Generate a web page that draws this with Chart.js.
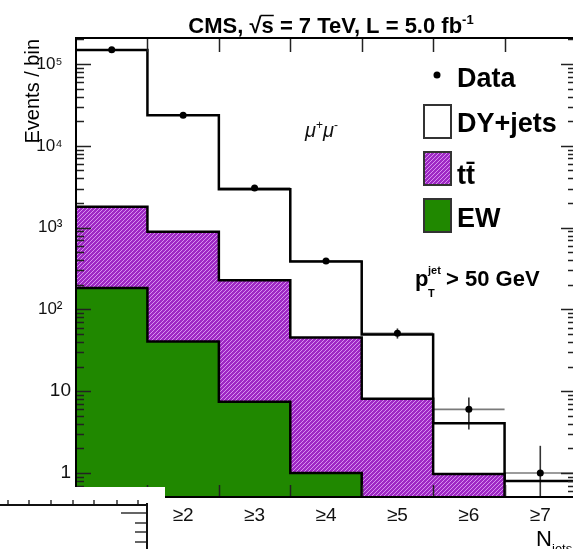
<!DOCTYPE html>
<html>
<head>
<meta charset="utf-8">
<script src="https://cdn.jsdelivr.net/npm/chart.js@4/dist/chart.umd.min.js"></script>
<style>
html, body { margin: 0; padding: 0; background: #fff; overflow: hidden; }
#wrap { position: relative; width: 580px; height: 549px; }
</style>
</head>
<body>
<div id="wrap"><canvas id="c" width="580" height="549"></canvas></div>
<script>
// N_jets bins (inclusive), mu+mu- channel
const binLabels = ['≥1', '≥2', '≥3', '≥4', '≥5', '≥6', '≥7'];
const dataCounts = [149000, 23600, 3050, 390, 51, 6, 1];
const dataErrUp = [390, 155, 55, 20, 7.5, 2.4, 1.15];
const dataErrDown = [390, 155, 55, 20, 7, 2.6, 1.0];
const ewMC = [183, 40.6, 7.45, 1.0, 0, 0, 0];
const ttbarMC = [1620, 850, 220, 44.5, 8.1, 0.97, 0.45];
const dyMC = [147000, 22700, 2710, 340, 41.4, 3.1, 0.35];
const yTicks = [1, 10, 100, 1000, 10000, 100000];

const F = '"Liberation Sans", Arial, Helvetica, sans-serif';
const GREEN = '#208800';
Chart.defaults.font.family = F;

// hatch pattern for ttbar
function hatch() {
    const c = document.createElement('canvas');
    c.width = c.height = 4;
    const g = c.getContext('2d');
    g.fillStyle = '#9e28c4';
    g.fillRect(0, 0, 4, 4);
    g.strokeStyle = '#d690ee';
    g.lineWidth = 1;
    g.beginPath();
    g.moveTo(0, 4); g.lineTo(4, 0);
    g.moveTo(-1, 1); g.lineTo(1, -1);
    g.moveTo(3, 5); g.lineTo(5, 3);
    g.stroke();
    return g.createPattern(c, 'repeat');
}
const PURPLE = hatch();

// stacked sums (EW at the bottom, then ttbar, then DY)
const ttStack = ttbarMC.map((v, i) => v + ewMC[i]);
const totStack = dyMC.map((v, i) => v + ttStack[i]);

// points on bin edges for a step histogram; empty bins drop below the axis
function steps(vals) {
    const pts = vals.map((v, i) => ({ x: i + 0.5, y: v > 0 ? v : 1e-3 }));
    const last = vals[vals.length - 1];
    pts.push({ x: vals.length + 0.5, y: last > 0 ? last : 1e-3 });
    return pts;
}

const sup = { '2': '²', '3': '³', '4': '⁴', '5': '⁵' };

function line(ctx, x0, y0, x1, y1) {
    ctx.beginPath();
    ctx.moveTo(x0, y0);
    ctx.lineTo(x1, y1);
    ctx.stroke();
}

const decor = {
    id: 'decor',
    // error bars go under the histogram outlines
    beforeDatasetsDraw(chart) {
        const { ctx, chartArea: a, scales: { x, y } } = chart;
        ctx.save();
        ctx.beginPath();
        ctx.rect(a.left, a.top, a.right - a.left, a.bottom - a.top);
        ctx.clip();
        ctx.lineWidth = 1.6;
        dataCounts.forEach((v, i) => {
            const cx = x.getPixelForValue(i + 1);
            const cy = y.getPixelForValue(v);
            ctx.strokeStyle = '#7a7a7a';
            line(ctx, x.getPixelForValue(i + 0.5), cy, x.getPixelForValue(i + 1.5), cy);
            const lo = v - dataErrDown[i];
            ctx.strokeStyle = '#333';
            line(ctx, cx, y.getPixelForValue(v + dataErrUp[i]), cx, lo > 0 ? y.getPixelForValue(lo) : a.bottom);
        });
        ctx.restore();
    },
    afterDatasetsDraw(chart) {
        const { ctx, chartArea: a, scales: { x, y } } = chart;
        ctx.save();
        ctx.strokeStyle = '#222';
        ctx.lineWidth = 1.5;
        // y ticks, inside, both sides
        for (let d = -1; d <= 5; d++) {
            for (let m = 1; m <= 9; m++) {
                const v = m * Math.pow(10, d);
                if (v < y.min || v > y.max) continue;
                const py = Math.round(y.getPixelForValue(v)) + 0.5;
                const len = m === 1 ? 15 : 8;
                line(ctx, a.left, py, a.left + len, py);
                line(ctx, a.right, py, a.right - len, py);
            }
        }
        // x ticks at bin edges
        for (let i = 1; i < binLabels.length; i++) {
            const px = Math.round(x.getPixelForValue(i + 0.5)) + 0.5;
            line(ctx, px, a.top, px, a.top + 14);
            line(ctx, px, a.bottom, px, a.bottom - 12);
        }
        // frame
        ctx.strokeStyle = '#000';
        ctx.lineWidth = 2;
        ctx.strokeRect(a.left, a.top, a.right - a.left, a.bottom - a.top);
        ctx.restore();
    },
    afterDraw(chart) {
        const ctx = chart.ctx;
        ctx.save();
        ctx.fillStyle = '#000';
        ctx.strokeStyle = '#000';
        ctx.textBaseline = 'alphabetic';
        ctx.textAlign = 'left';

        // title
        const t1 = 'CMS, √s = 7 TeV, L = 5.0 fb', t2 = '-1';
        ctx.font = 'bold 22px ' + F;
        const w1 = ctx.measureText(t1).width;
        const ws0 = ctx.measureText('CMS, √').width;
        const ws = ctx.measureText('s').width;
        ctx.font = 'bold 13px ' + F;
        const w2 = ctx.measureText(t2).width;
        const tx = 331 - (w1 + w2) / 2;
        ctx.font = 'bold 22px ' + F;
        ctx.fillText(t1, tx, 33);
        ctx.font = 'bold 13px ' + F;
        ctx.fillText(t2, tx + w1, 24);
        ctx.lineWidth = 1.5;
        line(ctx, tx + ws0 - 1, 15.5, tx + ws0 + ws, 15.5);

        // y title
        ctx.save();
        ctx.translate(39, 39);
        ctx.rotate(-Math.PI / 2);
        ctx.font = '20px ' + F;
        ctx.textAlign = 'right';
        ctx.fillText('Events / bin', 0, 0);
        ctx.restore();

        // legend
        ctx.font = 'bold 27px ' + F;
        ctx.beginPath();
        ctx.arc(437, 75, 3.5, 0, 2 * Math.PI);
        ctx.fill();
        ctx.fillText('Data', 457, 87);
        const boxes = [['#fff', 'DY+jets', 105, 132], [PURPLE, 'tt\u0304', 152, 184], [GREEN, 'EW', 199, 227]];
        boxes.forEach(([fill, label, top, base]) => {
            ctx.fillStyle = fill;
            ctx.fillRect(424, top, 27, 33);
            ctx.strokeStyle = '#333';
            ctx.lineWidth = 2;
            ctx.strokeRect(424, top, 27, 33);
            ctx.fillStyle = '#000';
            ctx.fillText(label, 457, base);
        });

        // channel: mu+ mu-
        ctx.fillStyle = '#111';
        let cx = 305;
        [['μ', 'italic 20px ', 137], ['+', '12px ', 129], ['μ', 'italic 20px ', 137], ['-', '12px ', 129]].forEach(([s, f, by]) => {
            ctx.font = f + F;
            ctx.fillText(s, cx, by);
            cx += ctx.measureText(s).width;
        });

        // jet pT cut
        ctx.fillStyle = '#000';
        ctx.font = 'bold 22px ' + F;
        ctx.fillText('p', 415, 286);
        ctx.fillText('> 50 GeV', 446, 286);
        ctx.font = 'bold 11px ' + F;
        ctx.fillText('jet', 428, 274);
        ctx.fillText('T', 428, 297);

        // x title
        ctx.font = '22px ' + F;
        ctx.fillText('N', 536, 546);
        ctx.font = '13px ' + F;
        ctx.fillText('jets', 552, 553);

        // pasted patch in the lower left corner
        ctx.fillStyle = '#fff';
        ctx.fillRect(0, 487, 165, 62);
        ctx.strokeStyle = '#111';
        ctx.lineWidth = 2;
        line(ctx, 0, 505, 148, 505);
        line(ctx, 147, 503, 147, 549);
        ctx.lineWidth = 1.3;
        [8, 29, 51, 73, 94, 117, 138].forEach(px => line(ctx, px, 505, px, 500));
        line(ctx, 121, 513, 147, 513);
        [523, 532, 542].forEach(py => line(ctx, 135, py, 147, py));
        ctx.restore();
    }
};

new Chart(document.getElementById('c'), {
    type: 'line',
    data: {
        datasets: [
            {
                label: 'Data',
                data: dataCounts.map((v, i) => ({ x: i + 1, y: v })),
                showLine: false,
                pointRadius: 3.5,
                pointBackgroundColor: '#000',
                pointBorderColor: '#000',
                pointBorderWidth: 0,
                order: 0
            },
            {
                label: 'EW',
                data: steps(ewMC),
                stepped: true,
                borderColor: '#000',
                borderWidth: 2.5,
                backgroundColor: GREEN,
                fill: 'start',
                pointRadius: 0,
                order: 1
            },
            {
                label: 'tt',
                data: steps(ttStack),
                stepped: true,
                borderColor: '#000',
                borderWidth: 2.5,
                backgroundColor: PURPLE,
                fill: 'start',
                pointRadius: 0,
                order: 2
            },
            {
                label: 'DY+jets',
                data: steps(totStack),
                stepped: true,
                borderColor: '#000',
                borderWidth: 2.5,
                fill: false,
                pointRadius: 0,
                order: 3
            }
        ]
    },
    options: {
        responsive: false,
        animation: false,
        layout: { padding: { top: 38, right: 3, left: 0, bottom: 0 } },
        plugins: {
            legend: { display: false },
            tooltip: { enabled: false },
            title: { display: false }
        },
        scales: {
            x: {
                type: 'linear',
                min: 0.5,
                max: 7.5,
                grid: { display: false, drawTicks: false },
                border: { display: false },
                afterBuildTicks: s => { s.ticks = binLabels.map((_, i) => ({ value: i + 1 })); },
                ticks: {
                    callback: v => binLabels[Math.round(v) - 1] || '',
                    font: { size: 19 },
                    color: '#111',
                    padding: 7,
                    maxRotation: 0,
                    autoSkip: false
                },
                afterFit: s => { s.height = 52; }
            },
            y: {
                type: 'logarithmic',
                min: 0.509,
                max: 2.08e5,
                grid: { display: false, drawTicks: false },
                border: { display: false },
                afterBuildTicks: s => { s.ticks = yTicks.map(v => ({ value: v })); },
                ticks: {
                    callback: v => v < 100 ? String(v) : '10' + sup[String(Math.round(Math.log10(v)))] + '\u2002',
                    font: c => ({ size: c.tick && c.tick.value >= 100 ? 17 : 19 }),
                    color: '#111',
                    padding: 5,
                    autoSkip: false
                },
                afterFit: s => { s.width = 76; }
            }
        }
    },
    plugins: [decor]
});
</script>
</body>
</html>
